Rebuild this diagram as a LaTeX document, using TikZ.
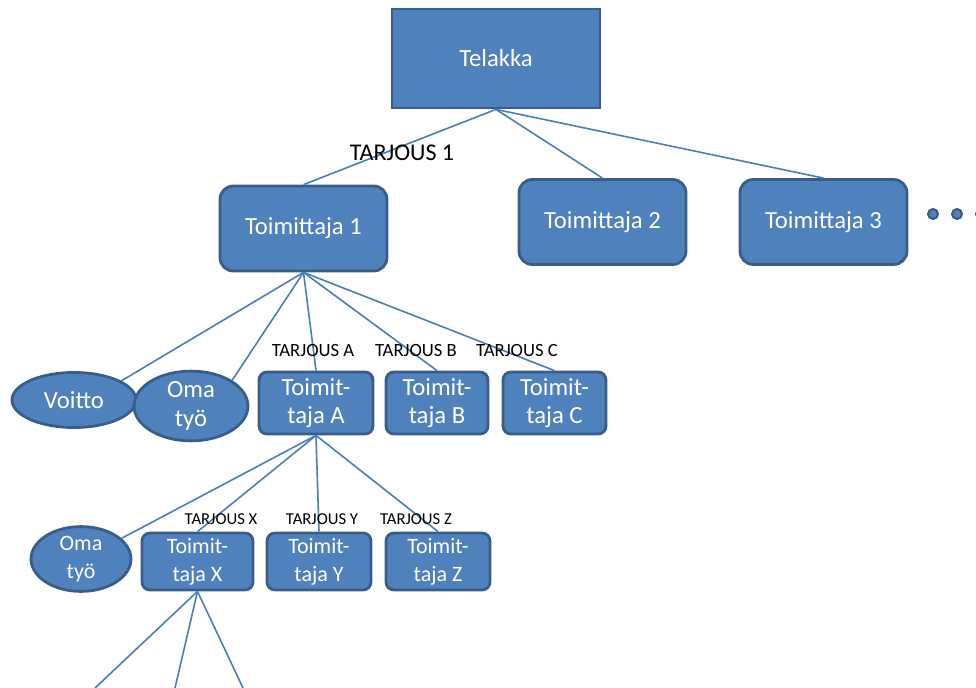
\documentclass[tikz,border=0pt]{standalone}
\usepackage{fontspec}
\setmainfont{Carlito}
\usetikzlibrary{shapes.geometric}
\definecolor{boxfill}{HTML}{4F81BD}
\definecolor{boxline}{HTML}{385D8A}
\definecolor{conn}{HTML}{4A7EBB}
\begin{document}
\begin{tikzpicture}[x=0.75pt,y=-0.75pt,
  base/.style={fill=boxfill,draw=boxline,line width=2.1pt,text=white,align=center,inner sep=0pt},
  sqbox/.style={base,rectangle,font=\fontsize{18.5}{21}\selectfont},
  bigbox/.style={base,rectangle,rounded corners=10pt,minimum width=125.25pt,minimum height=63.75pt,font=\fontsize{18.5}{21}\selectfont},
  midbox/.style={base,rectangle,rounded corners=6pt,minimum height=46.5pt,font=\fontsize{18.5}{21}\selectfont},
  lowbox/.style={base,rectangle,rounded corners=6pt,minimum height=42.75pt,font=\fontsize{16.5}{21}\selectfont},
  oval/.style={base,ellipse,font=\fontsize{18.5}{22}\selectfont},
  lowoval/.style={base,ellipse,font=\fontsize{16.5}{21}\selectfont},
  dot/.style={fill=boxfill,draw=boxline,line width=1.5pt,circle,inner sep=0pt,minimum size=7.5pt},
  conline/.style={draw=conn,line width=1.2pt},
  offer/.style={text=black,inner sep=0pt},
]
\useasboundingbox (0,0) rectangle (976,688);
\clip (0,0) rectangle (976,688);

% nodes
\node[sqbox,minimum width=156pt,minimum height=74.25pt] (tel) at (496,58.5) {Telakka};
\node[bigbox] (t1) at (303.5,228.5) {Toimittaja 1};
\node[bigbox] (t2) at (602.5,222) {Toimittaja 2};
\node[bigbox] (t3) at (823.5,222) {Toimittaja 3};
\node[dot] (d1) at (933,214) {};
\node[dot] (d2) at (957,214) {};
\node[dot] (d3) at (981,214) {};

\node[oval,minimum width=93pt,minimum height=41.25pt] (voitto) at (74,400) {Voitto};
\node[oval,minimum width=85.5pt,minimum height=51pt] (oma1) at (191,406) {Oma\\työ};
\node[midbox,minimum width=85.5pt] (ta) at (316,403) {Toimit-\\taja A};
\node[midbox,minimum width=76.5pt] (tb) at (437,403) {Toimit-\\taja B};
\node[midbox,minimum width=77.25pt] (tc) at (554.5,403) {Toimit-\\taja C};

\node[lowoval,minimum width=75pt,minimum height=46.5pt] (oma2) at (81,559) {Oma\\työ};
\node[lowbox,minimum width=83.25pt] (tx) at (197.5,561.5) {Toimit-\\taja X};
\node[lowbox,minimum width=78pt] (ty) at (319,561.5) {Toimit-\\taja Y};
\node[lowbox,minimum width=78pt] (tz) at (438,561.5) {Toimit-\\taja Z};

\coordinate (e1) at (95,688);
\coordinate (e2) at (175,688);
\coordinate (e3) at (243,688);

% connectors
\draw[conline] (tel.south) -- (t1.north);
\draw[conline] (tel.south) -- (t2.north);
\draw[conline] (tel.south) -- (t3.north);

\draw[conline] (t1.south) -- (voitto.22);
\draw[conline] (t1.south) -- (oma1.32);
\draw[conline] (t1.south) -- (ta.north);
\draw[conline] (t1.south) -- (tb.north);
\draw[conline] (t1.south) -- (tc.north);

\draw[conline] (ta.south) -- (oma2.27);
\draw[conline] (ta.south) -- (tx.north);
\draw[conline] (ta.south) -- (ty.north);
\draw[conline] (ta.south) -- (tz.north);

\draw[conline] (tx.south) -- (e1);
\draw[conline] (tx.south) -- (e2);
\draw[conline] (tx.south) -- (e3);

% offer labels
\node[offer,font=\fontsize{18}{20}\selectfont] (o1) at (402,153) {TARJOUS 1};
\node[offer,font=\fontsize{14}{16}\selectfont] (oa) at (313,351) {TARJOUS A};
\node[offer,font=\fontsize{14}{16}\selectfont] (ob) at (416,351) {TARJOUS B};
\node[offer,font=\fontsize{14}{16}\selectfont] (oc) at (517,351) {TARJOUS C};
\node[offer,font=\fontsize{12.5}{14}\selectfont] (ox) at (221,519) {TARJOUS X};
\node[offer,font=\fontsize{12.5}{14}\selectfont] (oy) at (322,519) {TARJOUS Y};
\node[offer,font=\fontsize{12.5}{14}\selectfont] (oz) at (416,519) {TARJOUS Z};
\end{tikzpicture}
\end{document}
